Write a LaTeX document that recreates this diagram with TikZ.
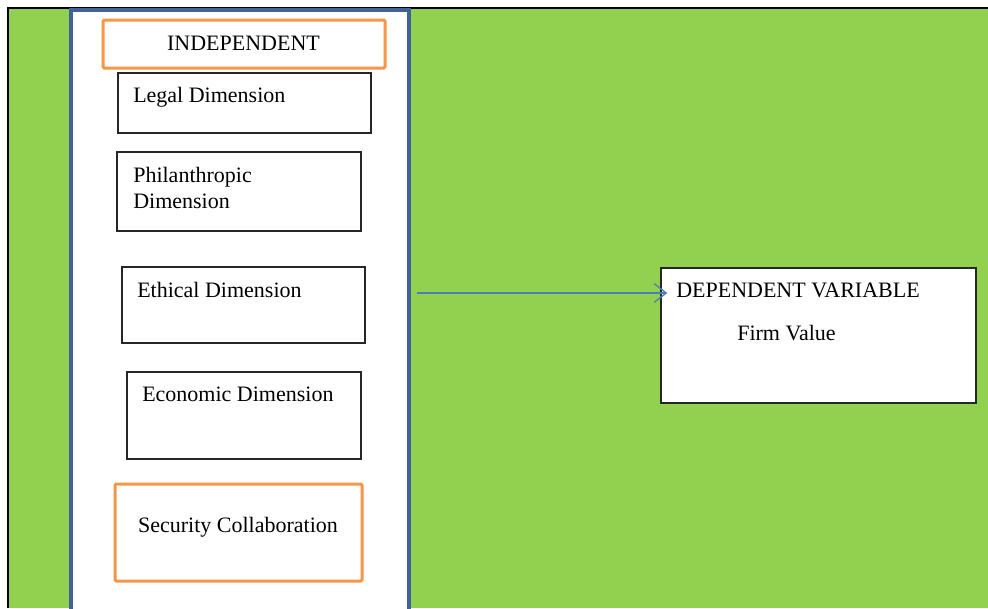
\documentclass[tikz,border=0pt]{standalone}
\usepackage{fontspec}
\setmainfont{Liberation Serif}
\usetikzlibrary{arrows.meta}
\usetikzlibrary{fit}
\definecolor{bggreen}{HTML}{92D050}
\definecolor{colblue}{HTML}{3F6399}
\definecolor{boxorange}{HTML}{F79646}
\definecolor{arrowblue}{HTML}{4A7EBB}

\begin{document}
\begin{tikzpicture}[x=0.75pt, y=-0.75pt]
                \tikzstyle{box} = [draw=black!85, line width=1pt, fill=white, inner sep=0pt]
                \tikzstyle{hilite} = [draw=boxorange, line width=2.25pt, rounded corners=1pt, fill=white, inner sep=0pt]
                \tikzstyle{lbl} = [inner sep=0pt, font=\fontsize{16.5}{19.5}\selectfont]
                \tikzstyle{link} = [draw=arrowblue, line width=1pt, -{Straight Barb[length=9pt, width=14pt, line width=1pt]}]
                \useasboundingbox (0,0) rectangle (988,608);
                \fill[bggreen] (8,8) rectangle (988,608);
                \draw[line width=1.2pt] (8,608) -- (8,8) -- (988,8);
                \node[draw=colblue, line width=3pt, fill=white, inner sep=0pt, fit={(71,9.5) (409,620)}] (indep) {};
                \node[hilite, fit={(103,20) (385,68)}] (indephead) {};
                \node[lbl, anchor=base] (indeptxt) at (243.5,50) {INDEPENDENT};
                \node[box, fit={(118,73) (371,133)}] (legal) {};
                \node[lbl, anchor=base west] (legaltxt) at (133,102) {Legal Dimension};
                \node[box, fit={(117,152) (361,231)}] (phil) {};
                \node[lbl, anchor=base west, align=left, font=\fontsize{16.5}{19.5}\selectfont] (philtxt) at (133,208) {Philanthropic\\Dimension};
                \node[box, fit={(122,267) (365,343)}] (ethic) {};
                \node[lbl, anchor=base west] (ethictxt) at (137,297) {Ethical Dimension};
                \node[box, fit={(127,372) (361,459)}] (econ) {};
                \node[lbl, anchor=base west] (econtxt) at (142,401) {Economic Dimension};
                \node[hilite, fit={(115,484) (362,581)}] (secur) {};
                \node[lbl, anchor=base] (securtxt) at (238,532) {Security Collaboration};
                \node[box, fit={(661,268) (976,403)}] (dep) {};
                \node[lbl, anchor=base west] (deptxt) at (676,297) {DEPENDENT VARIABLE};
                \node[lbl, anchor=base west] (firmtxt) at (737,340) {Firm Value};
                \coordinate (arrowtail) at (417,293);
                \draw[link, shorten >=-5.25pt] (arrowtail) -- (dep.west |- arrowtail);
            \end{tikzpicture}
\end{document}
